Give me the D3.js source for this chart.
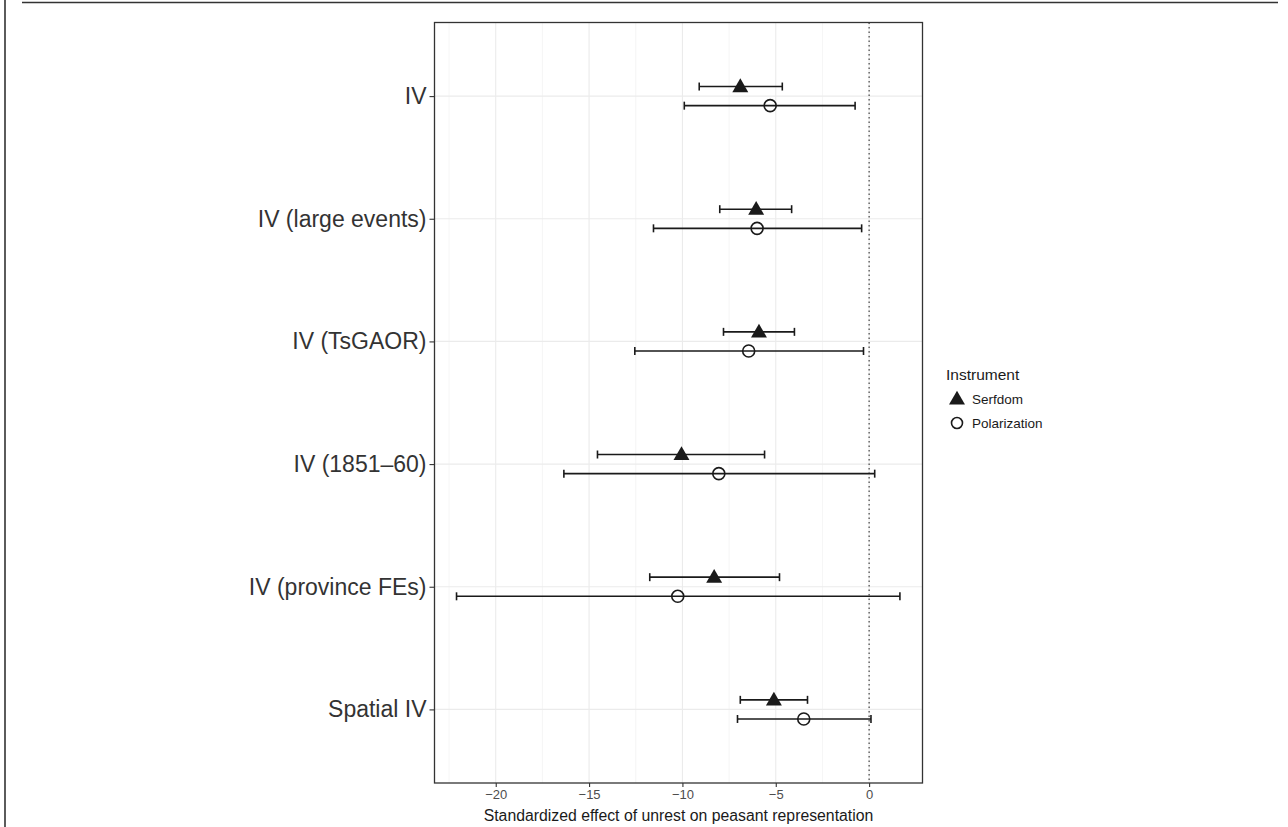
<!DOCTYPE html>
<html>
<head>
<meta charset="utf-8">
<script src="https://cdn.jsdelivr.net/npm/d3@7"></script>
<style>
  body { margin: 0; background: #fff; }
  svg { font-family: "Liberation Sans", Arial, Helvetica, sans-serif; }
</style>
</head>
<body>
<svg id="chart" width="1288" height="827"></svg>
<script>
// data
var models = ['IV', 'IV (large events)', 'IV (TsGAOR)', 'IV (1851\u201360)', 'IV (province FEs)', 'Spatial IV'];
var instruments = ['Serfdom', 'Polarization'];
var serfEst = [-6.9, -6.05, -5.9, -10.05, -8.3, -5.1];
var serfLo = [-9.1, -8.0, -7.8, -14.55, -11.75, -6.9];
var serfHi = [-4.65, -4.15, -4.0, -5.6, -4.8, -3.3];
var polEst = [-5.3, -6.0, -6.45, -8.05, -10.25, -3.5];
var polLo = [-9.9, -11.55, -12.55, -16.35, -22.1, -7.05];
var polHi = [-0.75, -0.4, -0.3, 0.3, 1.65, 0.1];
var xTicks = [-20, -15, -10, -5, 0];
var xMinor = [-22.5, -17.5, -12.5, -7.5, -2.5];

// layout
var panel = { left: 434.5, top: 22.5, right: 922.5, bottom: 783 };
var dodge = 0.078;
var ink = '#1a1a1a';

var svg = d3.select('#chart');

// page frame lines
svg.append('line').attr('x1', 22).attr('x2', 1278).attr('y1', 2.5).attr('y2', 2.5)
	.attr('stroke', '#333').attr('stroke-width', 1.6);
svg.append('line').attr('x1', 5).attr('x2', 5).attr('y1', 0).attr('y2', 827)
	.attr('stroke', '#333').attr('stroke-width', 1.6);

var x = d3.scaleLinear().domain([-23.28, 2.86]).range([panel.left, panel.right]);
var y = d3.scalePoint().domain(models).range([panel.top, panel.bottom]).padding(0.6);
var step = y.step();

// rows built from the arrays
var rows = [];
models.forEach(function(m, i) {
	rows.push({ model: m, inst: 'Serfdom', est: serfEst[i], lo: serfLo[i], hi: serfHi[i], off: -dodge });
	rows.push({ model: m, inst: 'Polarization', est: polEst[i], lo: polLo[i], hi: polHi[i], off: dodge });
});
function rowY(d) { return y(d.model) + d.off * step; }

var g = svg.append('g');

// grid
g.selectAll('line.minor').data(xMinor).enter().append('line')
	.attr('x1', function(d) { return x(d); }).attr('x2', function(d) { return x(d); })
	.attr('y1', panel.top).attr('y2', panel.bottom)
	.attr('stroke', '#f2f2f2').attr('stroke-width', 0.8);
g.selectAll('line.major').data(xTicks).enter().append('line')
	.attr('x1', function(d) { return x(d); }).attr('x2', function(d) { return x(d); })
	.attr('y1', panel.top).attr('y2', panel.bottom)
	.attr('stroke', '#ebebeb').attr('stroke-width', 1.1);
g.selectAll('line.ygrid').data(models).enter().append('line')
	.attr('x1', panel.left).attr('x2', panel.right)
	.attr('y1', function(d) { return y(d); }).attr('y2', function(d) { return y(d); })
	.attr('stroke', '#ebebeb').attr('stroke-width', 1.1);

// zero reference
g.append('line').attr('x1', x(0)).attr('x2', x(0))
	.attr('y1', panel.top).attr('y2', panel.bottom)
	.attr('stroke', '#333').attr('stroke-width', 1.1).attr('stroke-dasharray', '1.5,3');

// error bars
var bars = g.selectAll('g.bar').data(rows).enter().append('g');
bars.append('line')
	.attr('x1', function(d) { return x(d.lo); }).attr('x2', function(d) { return x(d.hi); })
	.attr('y1', rowY).attr('y2', rowY)
	.attr('stroke', ink).attr('stroke-width', 1.6);
bars.append('line')
	.attr('x1', function(d) { return x(d.lo); }).attr('x2', function(d) { return x(d.lo); })
	.attr('y1', function(d) { return rowY(d) - 4; }).attr('y2', function(d) { return rowY(d) + 4; })
	.attr('stroke', ink).attr('stroke-width', 1.6);
bars.append('line')
	.attr('x1', function(d) { return x(d.hi); }).attr('x2', function(d) { return x(d.hi); })
	.attr('y1', function(d) { return rowY(d) - 4; }).attr('y2', function(d) { return rowY(d) + 4; })
	.attr('stroke', ink).attr('stroke-width', 1.6);

// points
var tri = d3.symbol().type(d3.symbolTriangle).size(110);
g.selectAll('path.serf').data(rows.filter(function(d) { return d.inst === 'Serfdom'; }))
	.enter().append('path')
	.attr('d', tri)
	.attr('transform', function(d) { return 'translate(' + x(d.est) + ',' + (rowY(d) + 1) + ')'; })
	.attr('fill', ink);
g.selectAll('circle.pol').data(rows.filter(function(d) { return d.inst === 'Polarization'; }))
	.enter().append('circle')
	.attr('cx', function(d) { return x(d.est); }).attr('cy', rowY)
	.attr('r', 6).attr('fill', 'none').attr('stroke', ink).attr('stroke-width', 1.6);

// panel border
svg.append('rect')
	.attr('x', panel.left).attr('y', panel.top)
	.attr('width', panel.right - panel.left).attr('height', panel.bottom - panel.top)
	.attr('fill', 'none').attr('stroke', '#333').attr('stroke-width', 1.3);

// axes
var xAxis = svg.append('g').attr('transform', 'translate(0,' + panel.bottom + ')')
	.call(d3.axisBottom(x).tickValues(xTicks).tickSize(4).tickPadding(3)
		.tickFormat(function(d) { return d < 0 ? '\u2212' + Math.abs(d) : d; }));
xAxis.select('.domain').remove();
xAxis.selectAll('line').attr('stroke', '#333').attr('stroke-width', 1.1);
xAxis.selectAll('text').attr('fill', '#4d4d4d').style('font-size', '13px')
	.style('font-family', '"Liberation Sans", Arial, sans-serif');

var yAxis = svg.append('g').attr('transform', 'translate(' + panel.left + ',0)')
	.call(d3.axisLeft(y).tickSize(5).tickPadding(3));
yAxis.select('.domain').remove();
yAxis.selectAll('line').attr('stroke', '#333').attr('stroke-width', 1.1);
yAxis.selectAll('text').attr('fill', '#333').style('font-size', '23px')
	.style('font-family', '"Liberation Sans", Arial, sans-serif');

svg.append('text')
	.attr('x', (panel.left + panel.right) / 2).attr('y', 821)
	.attr('text-anchor', 'middle').attr('fill', '#1a1a1a').style('font-size', '15.8px')
	.text('Standardized effect of unrest on peasant representation');

// legend
var legend = svg.append('g').attr('transform', 'translate(946,0)');
legend.append('text').attr('x', 0).attr('y', 380).attr('fill', '#1a1a1a')
	.style('font-size', '15.5px').text('Instrument');
var items = legend.selectAll('g.item').data(instruments).enter().append('g')
	.attr('transform', function(d, i) { return 'translate(0,' + (399 + i * 24) + ')'; });
items.each(function(d) {
	var it = d3.select(this);
	if (d === 'Serfdom') {
		it.append('path').attr('d', tri).attr('transform', 'translate(11,1)').attr('fill', ink);
	} else {
		it.append('circle').attr('cx', 11).attr('cy', 0).attr('r', 5.5)
			.attr('fill', 'none').attr('stroke', ink).attr('stroke-width', 1.6);
	}
	it.append('text').attr('x', 26).attr('y', 5).attr('fill', '#1a1a1a')
		.style('font-size', '13.5px').text(d);
});
</script>
</body>
</html>
